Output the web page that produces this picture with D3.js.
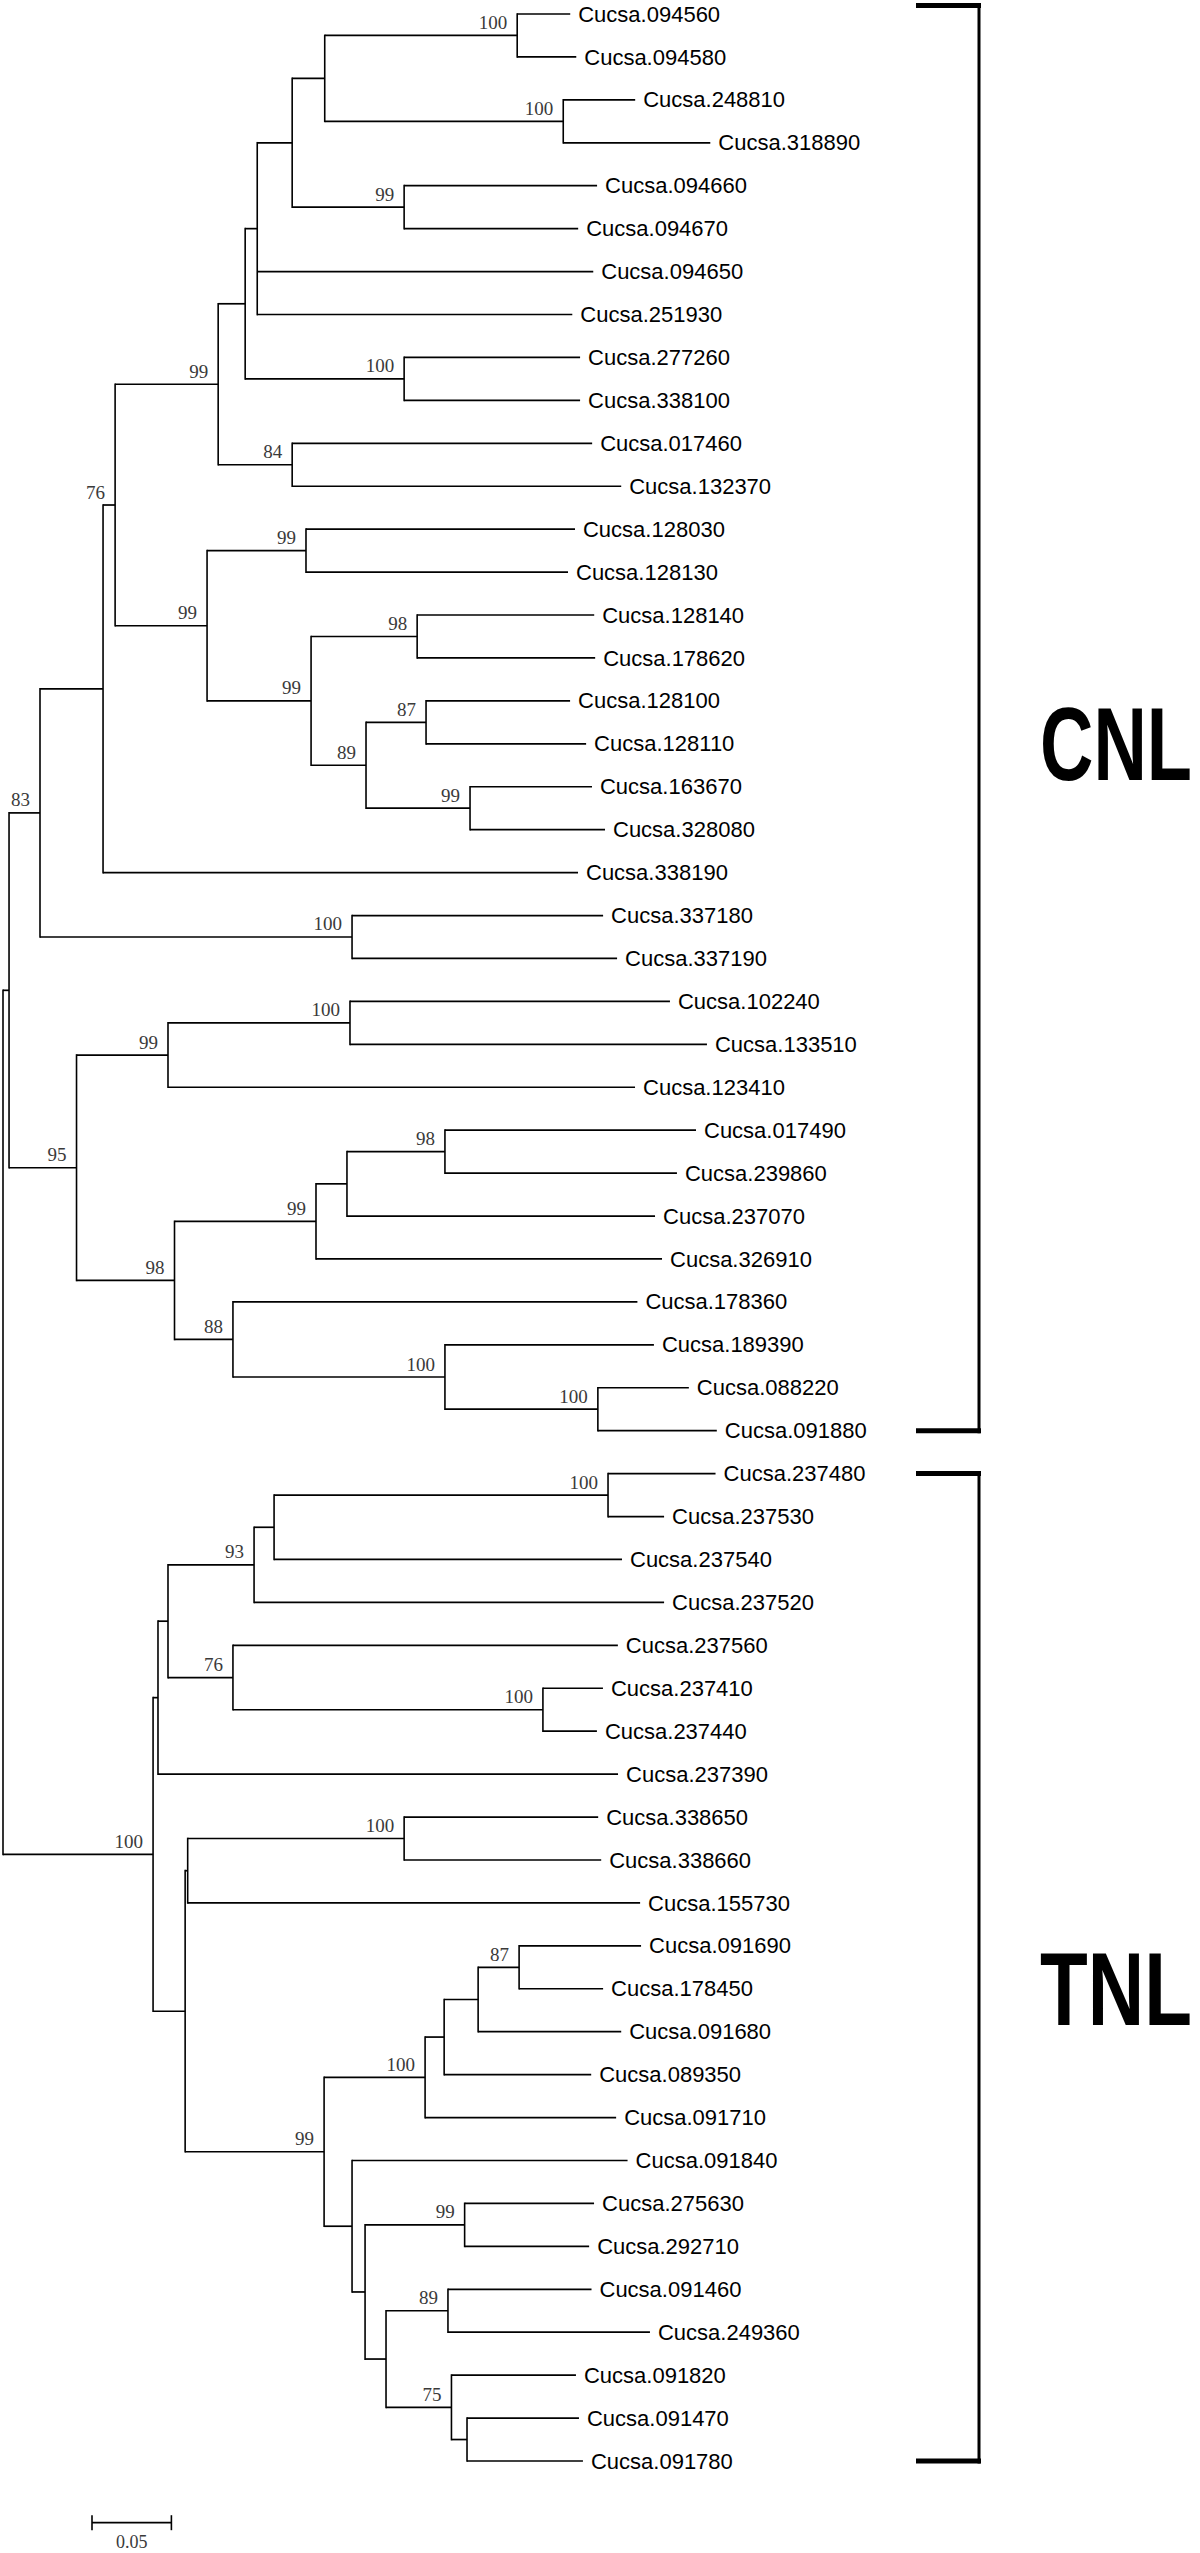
<!DOCTYPE html>
<html>
<head>
<meta charset="utf-8">
<script src="https://cdn.jsdelivr.net/npm/d3@7"></script>
<style>
  html, body { margin: 0; padding: 0; background: #fff; }
  svg { display: block; }
</style>
</head>
<body>
<div id="chart"></div>
<script>
// ---------------- DATA ----------------
// Tree topology with branch lengths (substitutions/site) and bootstrap support (internal labels)
const treeNewick = `(
 (
  (
   (
    (
     (
      (
       (
        (
         (
          (Cucsa.094560:0.0334,Cucsa.094580:0.0372)100:0.1212,
          (Cucsa.248810:0.0453,Cucsa.318890:0.0926)100:0.1502
         ):0.0205,
         (Cucsa.094660:0.1215,Cucsa.094670:0.1096)99:0.0705
        ):0.0220,
        Cucsa.094650:0.2116,
        Cucsa.251930:0.1984
       ):0.0076,
       (Cucsa.277260:0.1108,Cucsa.338100:0.1108)100:0.1001
      ):0.0170,
      (Cucsa.017460:0.1889,Cucsa.132370:0.2072)84:0.0466
     )99:0.0649,
     (
      (Cucsa.128030:0.1694,Cucsa.128130:0.1650)99:0.0623,
      (
       (Cucsa.128140:0.1115,Cucsa.178620:0.1121)98:0.0668,
       (
        (Cucsa.128100:0.0907,Cucsa.128110:0.1008)87:0.0378,
        (Cucsa.163670:0.0768,Cucsa.328080:0.0850)99:0.0655
       )89:0.0346
      )99:0.0655
     )99:0.0579
    )76:0.0076,
    Cucsa.338190:0.2991
   ):0.0397,
   (Cucsa.337180:0.1581,Cucsa.337190:0.1669)100:0.1965
  )83:0.0195,
  (
   (
    (Cucsa.102240:0.2015,Cucsa.133510:0.2248)100:0.1146,
    Cucsa.123410:0.2941
   )99:0.0576,
   (
    (
     (
      (Cucsa.017490:0.1581,Cucsa.239860:0.1461)98:0.0617,
      Cucsa.237070:0.1940
     ):0.0195,
     Cucsa.326910:0.2179
    )99:0.0891,
    (
     Cucsa.178360:0.2547,
     (
      Cucsa.189390:0.1316,
      (Cucsa.088220:0.0573,Cucsa.091880:0.0749)100:0.0963
     )100:0.1335
    )88:0.0368
   )98:0.0617
  )95:0.0425
 ):0.0038,
 (
  (
   (
    (
     (
      (Cucsa.237480:0.0677,Cucsa.237530:0.0353)100:0.2103,
      Cucsa.237540:0.2191
     ):0.0126,
     Cucsa.237520:0.2582
    )93:0.0542,
    (
     Cucsa.237560:0.2424,
     (Cucsa.237410:0.0378,Cucsa.237440:0.0340)100:0.1952
    )76:0.0409
   ):0.0063,
   Cucsa.237390:0.2897
  ):0.0031,
  (
   (
    (Cucsa.338650:0.1222,Cucsa.338660:0.1241)100:0.1363,
    Cucsa.155730:0.2849
   ):0.0016,
   (
    (
     (
      (
       (Cucsa.091690:0.0768,Cucsa.178450:0.0529)87:0.0258,
       Cucsa.091680:0.0901
      ):0.0214,
      Cucsa.089350:0.0926
     ):0.0120,
     Cucsa.091710:0.1203
    )100:0.0636,
    (
     Cucsa.091840:0.1735,
     (
      (Cucsa.275630:0.0815,Cucsa.292710:0.0784)99:0.0627,
      (
       (Cucsa.091460:0.0904,Cucsa.249360:0.1272)89:0.0390,
       (Cucsa.091820:0.0784,(Cucsa.091470:0.0705,Cucsa.091780:0.0730):0.0098)75:0.0412
      ):0.0132
     ):0.0082
    ):0.0176
   )99:0.0875
  ):0.0202
 )100:0.0945
);`;

// Clade groups (bracket labels)
const groupNames = ["CNL", "TNL"];
const groupFirstLeaf = ["Cucsa.094560", "Cucsa.237480"];
const groupLastLeaf = ["Cucsa.091880", "Cucsa.091780"];

// Scale bar
const scaleBarValue = 0.05;
const scaleBarLabel = "0.05";

// ---------------- LAYOUT ----------------
const W = 1200, H = 2553;
const rootX = 3;
const pxPerScaleBar = 79.4;       // pixels for 0.05
const leafTop = 14, leafBottom = 2461;

function parseNewick(str) {
  const s = str.replace(/\s+/g, "");
  let i = 0;
  function parseNode() {
    const node = { children: [] };
    if (s[i] === "(") {
      i++;
      node.children.push(parseNode());
      while (s[i] === ",") { i++; node.children.push(parseNode()); }
      i++; // ')'
    }
    let label = "";
    while (i < s.length && !",):;".includes(s[i])) label += s[i++];
    node.name = label;
    node.length = 0;
    if (s[i] === ":") {
      i++;
      let num = "";
      while (i < s.length && !",);".includes(s[i])) num += s[i++];
      node.length = +num;
    }
    return node;
  }
  return parseNode();
}

const root = d3.hierarchy(parseNewick(treeNewick), d => d.children.length ? d.children : null);
root.each(d => { d.dist = d.parent ? d.parent.dist + d.data.length : 0; });

const leaves = root.leaves();
const leafNames = leaves.map(d => d.data.name);

const x = d3.scaleLinear().domain([0, scaleBarValue]).range([rootX, rootX + pxPerScaleBar]);
const y = d3.scalePoint().domain(leafNames).range([leafTop, leafBottom]);

root.eachAfter(d => {
  if (d.children) {
    d.yPos = (d.children[0].yPos + d.children[d.children.length - 1].yPos) / 2;
  } else {
    d.yPos = y(d.data.name);
  }
  d.xPos = x(d.dist);
});

const svg = d3.select("#chart").append("svg")
  .attr("width", W).attr("height", H)
  .attr("viewBox", `0 0 ${W} ${H}`);

svg.append("rect").attr("width", W).attr("height", H).attr("fill", "#fff");

const g = svg.append("g");

// horizontal branches
g.selectAll("line.h")
  .data(root.descendants().filter(d => d.parent))
  .join("line")
  .attr("class", "h")
  .attr("x1", d => d.parent.xPos)
  .attr("x2", d => d.xPos)
  .attr("y1", d => d.yPos)
  .attr("y2", d => d.yPos)
  .attr("stroke", "#000")
  .attr("stroke-width", 1.7);

// vertical connectors
g.selectAll("line.v")
  .data(root.descendants().filter(d => d.children))
  .join("line")
  .attr("class", "v")
  .attr("x1", d => d.xPos)
  .attr("x2", d => d.xPos)
  .attr("y1", d => d.children[0].yPos - 0.85)
  .attr("y2", d => d.children[d.children.length - 1].yPos + 0.85)
  .attr("stroke", "#000")
  .attr("stroke-width", 1.6);

// leaf labels
g.selectAll("text.leaf")
  .data(leaves)
  .join("text")
  .attr("class", "leaf")
  .attr("x", d => d.xPos + 8)
  .attr("y", d => d.yPos + 7.6)
  .attr("font-family", "'Liberation Sans', Arial, sans-serif")
  .attr("font-size", 22)
  .attr("fill", "#000")
  .text(d => d.data.name);

// bootstrap labels
g.selectAll("text.boot")
  .data(root.descendants().filter(d => d.children && d.data.name !== ""))
  .join("text")
  .attr("class", "boot")
  .attr("x", d => d.xPos - 10)
  .attr("y", d => d.yPos - 6.5)
  .attr("text-anchor", "end")
  .attr("font-family", "'Liberation Serif', 'Times New Roman', serif")
  .attr("font-size", 19)
  .attr("fill", "#3a3a3a")
  .text(d => d.data.name);

// group brackets
const groups = groupNames.map((n, i) => ({
  name: n,
  y0: y(groupFirstLeaf[i]),
  y1: y(groupLastLeaf[i])
}));
const brX0 = 916, brX1 = 981;

const br = svg.append("g");
groups.forEach((gr, i) => {
  const top = i === 0 ? 5.5 : gr.y0;
  br.append("line").attr("x1", brX0).attr("x2", brX1).attr("y1", top).attr("y2", top)
    .attr("stroke", "#000").attr("stroke-width", 5);
  br.append("line").attr("x1", brX0).attr("x2", brX1).attr("y1", gr.y1).attr("y2", gr.y1)
    .attr("stroke", "#000").attr("stroke-width", 5);
  br.append("line").attr("x1", brX1 - 2).attr("x2", brX1 - 2).attr("y1", top - 2.5).attr("y2", gr.y1 + 2.5)
    .attr("stroke", "#000").attr("stroke-width", 3);
  const lg = br.append("g");
  const t = lg.append("text")
    .attr("x", 0)
    .attr("y", 0)
    .attr("font-family", "'Liberation Sans Narrow', 'Liberation Sans', Arial, sans-serif")
    .attr("font-weight", "bold")
    .attr("font-size", 104)
    .attr("fill", "#000")
    .text(gr.name);
  const natural = t.node().getComputedTextLength() || 214;
  const sx = 152 / natural;
  lg.attr("transform", `translate(1040,${(gr.y0 + gr.y1) / 2 + 58}) scale(${sx},1)`);
});

// scale bar
const sbX = 92, sbY = 2522.7;
const sbLen = x(scaleBarValue) - x(0);
const sb = svg.append("g");
sb.append("line").attr("x1", sbX).attr("x2", sbX + sbLen).attr("y1", sbY).attr("y2", sbY)
  .attr("stroke", "#000").attr("stroke-width", 1.7);
[sbX, sbX + sbLen].forEach(px => {
  sb.append("line").attr("x1", px).attr("x2", px).attr("y1", sbY - 7.5).attr("y2", sbY + 7.5)
    .attr("stroke", "#000").attr("stroke-width", 1.6);
});
sb.append("text")
  .attr("x", sbX + sbLen / 2)
  .attr("y", 2548)
  .attr("text-anchor", "middle")
  .attr("font-family", "'Liberation Serif', 'Times New Roman', serif")
  .attr("font-size", 18)
  .attr("fill", "#3a3a3a")
  .text(scaleBarLabel);
</script>
</body>
</html>
